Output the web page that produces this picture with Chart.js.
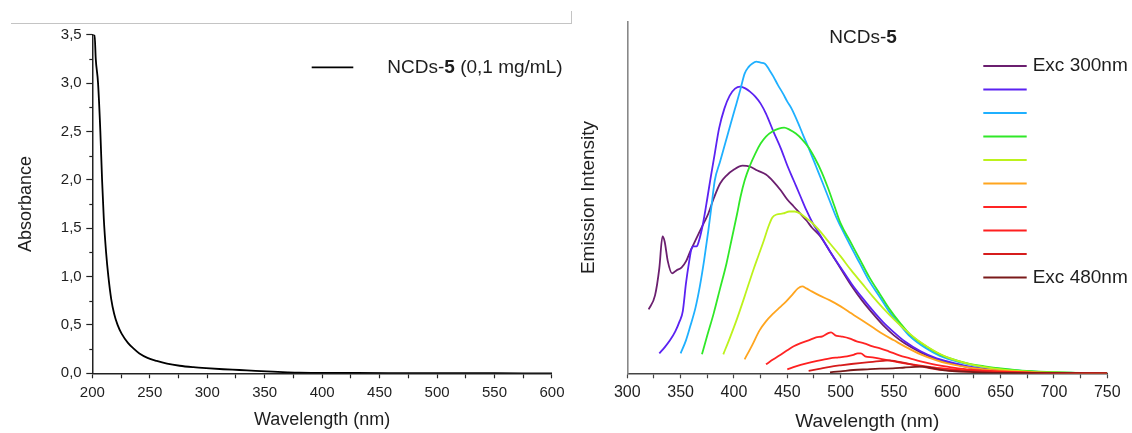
<!DOCTYPE html>
<html>
<head>
<meta charset="utf-8">
<script src="https://cdn.jsdelivr.net/npm/chart.js@4.4.1/dist/chart.umd.min.js"></script>
<style>
  body { margin: 0; background: #fff; width: 1132px; height: 433px; overflow: hidden; position: relative; }
  .panel { position: absolute; top: 0; height: 433px; }
  #absPanel { left: 0; width: 570px; }
  #emPanel { left: 570px; width: 562px; }
  .frame { position: absolute; left: 11px; top: 11px; width: 560px; height: 12px;
           border-bottom: 1px solid #c4c4c4; border-right: 1px solid #c4c4c4; }
</style>
</head>
<body>
<div class="frame"></div>
<div class="panel" id="absPanel"><canvas id="absChart"></canvas></div>
<div class="panel" id="emPanel"><canvas id="emChart"></canvas></div>
<script>
const FONT = "'Liberation Sans', Arial, sans-serif";
const TEXT = '#1e1e1e';

// --- UV-Vis absorbance (left panel) ---
const absWavelength = [200, 202, 203, 205, 207, 208.5, 210, 212, 214, 216.5, 219, 222, 225.5, 231, 236, 241, 248, 256, 265, 276, 288, 299, 314, 328, 342, 357, 370, 380, 400, 430, 460, 500, 550, 600];
const absValues = [3.5, 3.5, 3.25, 3.0, 2.5, 2.0, 1.6, 1.25, 1.0, 0.765, 0.615, 0.5, 0.41, 0.315, 0.255, 0.205, 0.16, 0.128, 0.1, 0.078, 0.063, 0.053, 0.042, 0.034, 0.025, 0.017, 0.01, 0.006, 0.004, 0.003, 0.002, 0.001, 0.0005, 0];
const absXTicks = [200, 250, 300, 350, 400, 450, 500, 550, 600];
const absYTicks = [0, 0.5, 1, 1.5, 2, 2.5, 3, 3.5];

// --- emission spectra (right panel), one pair of arrays per excitation ---
const excitation = [300, 320, 340, 360, 380, 400, 420, 440, 460, 480];
const excColors = ['#6b1f6f', '#5b22f2', '#1fb0ff', '#30e828', '#bdf21c', '#ffa51f', '#ff2424', '#ff1f1f', '#d61c1c', '#7a1a1a'];
const legendText = ['Exc 300nm', '', '', '', '', '', '', '', '', 'Exc 480nm'];

const em300Wl = [320, 326, 330, 333, 335, 338, 342, 346, 351, 355, 359, 363, 367, 372, 376, 381, 387, 393, 400, 408, 415, 422, 430, 437, 444, 450, 456, 462, 468, 473, 481, 490, 500, 510, 520, 530, 540, 550, 560, 575, 590, 600, 620, 640, 660, 680, 700, 725, 750];
const em300I = [64, 78, 105, 137, 132, 112, 100, 103, 106, 112, 122, 131, 140, 151, 160, 175, 190, 198, 204, 208, 207, 203, 199, 192, 183, 174, 167, 160, 153, 146, 137, 122, 105, 88, 73, 60, 48, 38, 30, 21, 14, 11, 6, 3.5, 2, 1, 0.5, 0.2, 0];

const em320Wl = [330, 335, 340, 345, 349, 352, 355, 358, 360, 362, 365, 367, 371, 375, 378, 382, 386, 391, 396, 401, 406, 411, 415, 420, 425, 430, 437, 444, 450, 456, 462, 468, 474, 481, 490, 500, 510, 520, 530, 540, 550, 560, 575, 590, 600, 620, 640, 660, 680, 700, 725, 750];
const em320I = [20, 26, 33, 42, 52, 62, 90, 112, 124, 127, 127, 132, 150, 175, 195, 220, 245, 265, 278, 285, 287, 285, 282, 277, 270, 260, 242, 225, 208, 193, 178, 163, 150, 138, 122, 106, 90, 76, 63, 51, 41, 32, 22, 15, 12, 7, 4, 2.2, 1.2, 0.6, 0.2, 0];

const em340Wl = [350, 355, 359, 364, 368, 372, 376, 379, 382, 387, 392, 397, 401, 406, 410, 414, 417, 421, 425, 429, 433, 437, 441, 446, 450, 454, 460, 465, 471, 477, 483, 490, 496, 500, 509, 518, 527, 537, 546, 556, 565, 580, 593, 610, 621, 635, 650, 670, 696, 720, 750];
const em340I = [20, 33, 47, 66, 87, 113, 143, 168, 193, 212, 231, 250, 265, 284, 300, 307, 310, 312, 311, 310, 304, 297, 289, 280, 272, 265, 251, 238, 223, 207, 191, 172, 156, 147, 128, 110, 92, 76, 61, 48, 37, 25, 17.5, 11.5, 8.8, 6.2, 4.3, 2.4, 1.1, 0.5, 0];

const em360Wl = [370, 375, 381, 387, 393, 398, 403, 406, 410, 415, 420, 425, 430, 436, 442, 447, 452, 458, 464, 470, 476, 482, 488, 494, 500, 509, 518, 527, 537, 546, 556, 565, 580, 593, 610, 621, 635, 650, 670, 696, 720, 750];
const em360I = [19, 38, 60, 85, 110, 135, 160, 176, 193, 208, 220, 230, 237, 242, 245, 246, 244, 240, 234, 226, 215, 202, 186, 168, 150, 132, 114, 96, 79, 64, 50, 39, 27, 19, 12.5, 9.5, 7, 4.8, 2.7, 1.3, 0.5, 0];

const em380Wl = [390, 396, 403, 410, 418, 423, 428, 432, 436, 440, 446, 452, 457, 462, 467, 473, 480, 490, 500, 510, 520, 530, 540, 550, 560, 575, 590, 600, 620, 640, 660, 680, 700, 725, 750];
const em380I = [19, 35, 55, 77, 103, 118, 133, 146, 156, 159, 160, 162, 162, 160, 156, 151, 143, 130, 117, 103, 90, 77, 65, 54, 44, 31, 21, 16, 9.5, 5.5, 3, 1.5, 0.8, 0.3, 0];

const em400Wl = [410, 417, 424, 430, 437, 443, 449, 455, 460, 464, 468, 473, 480, 490, 500, 510, 520, 530, 540, 550, 560, 575, 590, 600, 620, 640, 660, 680, 700, 725, 750];
const em400I = [14, 28, 43, 52, 60, 66, 72, 79, 85, 87, 85, 82, 78, 73, 67, 60, 53, 46, 39, 33, 27, 19, 13, 10, 6, 3.5, 2, 1, 0.5, 0.2, 0];

const em420Wl = [430, 437, 443, 450, 456, 462, 470, 477, 483, 488, 491, 495, 500, 508, 515, 522, 530, 537, 545, 555, 565, 575, 585, 595, 610, 625, 640, 660, 680, 700, 750];
const em420I = [9, 14, 18, 23, 27, 30, 33, 36, 37, 40, 41, 38, 37, 35, 32, 30, 27, 25, 22, 18, 15, 12, 9.5, 7.5, 5, 3.5, 2.3, 1.3, 0.7, 0.3, 0];

const em440Wl = [450, 458, 468, 478, 490, 498, 506, 512, 516, 519, 523, 530, 540, 550, 560, 570, 580, 590, 600, 620, 640, 660, 680, 700, 750];
const em440I = [4, 7, 10, 12.5, 15, 16, 17, 18.5, 20, 20, 17, 16, 14, 12, 10, 8.5, 7, 5.5, 4.5, 2.8, 1.7, 1, 0.5, 0.2, 0];

const em460Wl = [470, 480, 490, 500, 510, 520, 530, 540, 546, 552, 560, 570, 580, 590, 600, 620, 640, 660, 700, 750];
const em460I = [2.5, 4.5, 6.5, 8, 9.3, 10.5, 11.5, 12.5, 13, 12, 10.5, 8, 6, 4, 3, 1.8, 1, 0.5, 0.1, 0];

const em480Wl = [490, 500, 512, 525, 537, 549, 560, 570, 577, 585, 592, 600, 615, 628, 650, 700, 750];
const em480I = [1, 2, 3.3, 4, 4.6, 5, 5.8, 6.4, 6.6, 5.5, 4, 2.6, 1.6, 1, 0.5, 0.1, 0];

const emWavelengths = [em300Wl, em320Wl, em340Wl, em360Wl, em380Wl, em400Wl, em420Wl, em440Wl, em460Wl, em480Wl];
const emIntensities = [em300I, em320I, em340I, em360I, em380I, em400I, em420I, em440I, em460I, em480I];
const emXTicks = [300, 350, 400, 450, 500, 550, 600, 650, 700, 750];

const toPoints = (xs, ys) => xs.map((x, i) => ({ x, y: ys[i] }));
const isAbsMajor = v => absYTicks.some(t => Math.abs(t - v) < 1e-6);

// draws "NCDs-" + bold "5" + rest, starting at x
function drawNcds(ctx, x, y, size, rest) {
  ctx.font = `${size}px ${FONT}`;
  ctx.fillText('NCDs-', x, y);
  x += ctx.measureText('NCDs-').width;
  ctx.font = `bold ${size}px ${FONT}`;
  ctx.fillText('5', x, y);
  x += ctx.measureText('5').width;
  if (rest) {
    ctx.font = `${size}px ${FONT}`;
    ctx.fillText(rest, x, y);
  }
}

function textWidth(ctx, size) {
  ctx.font = `${size}px ${FONT}`;
  const a = ctx.measureText('NCDs-').width;
  ctx.font = `bold ${size}px ${FONT}`;
  return a + ctx.measureText('5').width;
}

const absLegend = {
  id: 'absLegend',
  afterDraw(chart) {
    const { ctx, chartArea } = chart;
    const y = chartArea.top + 32.6;
    ctx.save();
    ctx.strokeStyle = chart.data.datasets[0].borderColor;
    ctx.lineWidth = 1.8;
    ctx.beginPath();
    ctx.moveTo(311.7, y);
    ctx.lineTo(353.3, y);
    ctx.stroke();
    ctx.fillStyle = TEXT;
    ctx.textBaseline = 'middle';
    drawNcds(ctx, 387.3, y, 19, ' (0,1 mg/mL)');
    ctx.restore();
  }
};

// short minor ticks on the absorbance axis (major ones come from the library)
const absMinorTicks = {
  id: 'absMinorTicks',
  afterDraw(chart) {
    const scale = chart.scales.y;
    const ctx = chart.ctx;
    ctx.save();
    ctx.strokeStyle = '#222';
    ctx.lineWidth = 1.2;
    scale.ticks.forEach(t => {
      if (isAbsMajor(t.value)) return;
      const y = Math.round(scale.getPixelForValue(t.value)) + 0.5;
      ctx.beginPath();
      ctx.moveTo(scale.right - 3, y);
      ctx.lineTo(scale.right, y);
      ctx.stroke();
    });
    ctx.restore();
  }
};

const emLegend = {
  id: 'emLegend',
  afterDraw(chart) {
    const { ctx } = chart;
    ctx.save();
    ctx.textBaseline = 'middle';
    ctx.fillStyle = TEXT;
    // panel title
    const w = textWidth(ctx, 19);
    drawNcds(ctx, 293 - w / 2, 37.5, 19);
    chart.data.datasets.forEach((ds, i) => {
      const y = 66 + i * 23.5;
      ctx.strokeStyle = ds.borderColor;
      ctx.lineWidth = 2;
      ctx.beginPath();
      ctx.moveTo(413.3, y);
      ctx.lineTo(456.7, y);
      ctx.stroke();
      if (legendText[i]) {
        ctx.font = `19px ${FONT}`;
        ctx.fillStyle = TEXT;
        ctx.fillText(legendText[i], 462.7, y);
      }
    });
    ctx.restore();
  }
};

new Chart(document.getElementById('absChart'), {
  type: 'line',
  data: {
    datasets: [{
      label: 'NCDs-5 (0,1 mg/mL)',
      data: toPoints(absWavelength, absValues),
      borderColor: '#000',
      borderWidth: 1.8,
      pointRadius: 0,
      cubicInterpolationMode: 'monotone',
    }],
  },
  options: {
    responsive: true,
    maintainAspectRatio: false,
    animation: false,
    events: [],
    layout: { padding: { top: 34.7, right: 16.1, bottom: 0, left: 0 } },
    plugins: { legend: { display: false }, tooltip: { enabled: false } },
    scales: {
      x: {
        type: 'linear',
        min: 200,
        max: 600,
        afterFit: s => { s.height = 59.7; },
        border: { color: '#222', width: 1.5 },
        grid: { drawOnChartArea: false, tickLength: 5, tickColor: '#222', tickWidth: 1.2 },
        ticks: {
          stepSize: 25,
          autoSkip: false,
          maxRotation: 0,
          padding: 5.5,
          color: TEXT,
          font: { family: FONT, size: 15 },
          callback: v => (absXTicks.includes(v) ? String(v) : ''),
        },
        title: {
          display: true,
          text: 'Wavelength (nm)',
          color: TEXT,
          font: { family: FONT, size: 18 },
          padding: { top: 0, bottom: 2.2 },
        },
      },
      y: {
        min: 0,
        max: 3.5,
        afterFit: s => { s.width = 92.3; },
        border: { color: '#222', width: 1.5 },
        grid: {
          drawOnChartArea: false,
          tickLength: 6,
          tickWidth: 1.2,
          tickColor: c => (c.tick && isAbsMajor(c.tick.value) ? '#222' : 'rgba(0,0,0,0)'),
        },
        ticks: {
          stepSize: 0.25,
          autoSkip: false,
          padding: 4.6,
          color: TEXT,
          font: { family: FONT, size: 15 },
          callback: v => (isAbsMajor(v) ? v.toFixed(1).replace('.', ',') : ''),
        },
        title: {
          display: true,
          text: 'Absorbance',
          color: TEXT,
          font: { family: FONT, size: 18 },
          padding: { top: 15.6, bottom: 0 },
        },
      },
    },
  },
  plugins: [absLegend, absMinorTicks],
});

new Chart(document.getElementById('emChart'), {
  type: 'line',
  data: {
    datasets: excitation.map((exc, i) => ({
      label: `Exc ${exc}nm`,
      data: toPoints(emWavelengths[i], emIntensities[i]),
      borderColor: excColors[i],
      borderWidth: 1.8,
      pointRadius: 0,
      cubicInterpolationMode: 'monotone',
      order: excitation.length - i,
    })),
  },
  options: {
    responsive: true,
    maintainAspectRatio: false,
    animation: false,
    events: [],
    layout: { padding: { top: 21.7, right: 24.7, bottom: 0, left: 0 } },
    plugins: { legend: { display: false }, tooltip: { enabled: false } },
    scales: {
      x: {
        type: 'linear',
        min: 300,
        max: 750,
        afterFit: s => { s.height = 59.7; },
        border: { color: '#444', width: 1.5 },
        grid: { drawOnChartArea: false, tickLength: 5, tickColor: '#444', tickWidth: 1.2 },
        ticks: {
          stepSize: 25,
          autoSkip: false,
          maxRotation: 0,
          padding: 4.9,
          color: TEXT,
          font: { family: FONT, size: 16 },
          callback: v => (emXTicks.includes(v) ? String(v) : ''),
        },
        title: {
          display: true,
          text: 'Wavelength (nm)',
          color: TEXT,
          font: { family: FONT, size: 19 },
          padding: { top: 0, bottom: 0.2 },
        },
      },
      y: {
        min: 0,
        max: 352,
        afterFit: s => { s.width = 57.3; },
        border: { color: '#888', width: 1.6 },
        grid: { display: false },
        ticks: { display: false },
        title: {
          display: true,
          text: 'Emission Intensity',
          color: TEXT,
          font: { family: FONT, size: 19 },
          padding: { top: 7.1, bottom: 0 },
        },
      },
    },
  },
  plugins: [emLegend],
});
</script>
</body>
</html>
